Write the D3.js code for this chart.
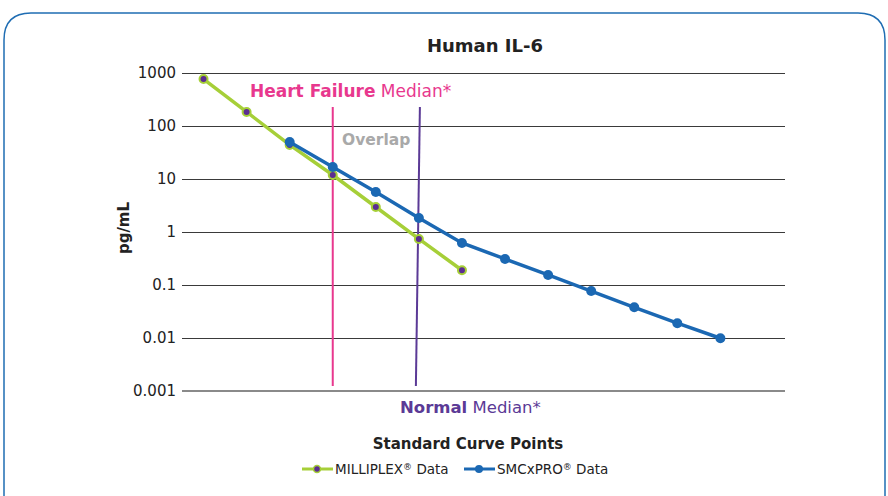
<!DOCTYPE html>
<html>
<head>
<meta charset="utf-8">
<script src="https://cdn.jsdelivr.net/npm/d3@7"></script>
<style>
  body { margin: 0; background: #fff; }
  svg text { font-family: "DejaVu Sans", Verdana, sans-serif; }
</style>
</head>
<body>
<svg width="888" height="496"></svg>
<script>
// standard curve points 1..14
const points = d3.range(1, 15);
const yTicks = [1000, 100, 10, 1, 0.1, 0.01, 0.001];

const milliplexX = [1, 2, 3, 4, 5, 6, 7];
const milliplexY = [770, 184, 44, 11.9, 2.96, 0.74, 0.19];

const smcxproX = [3, 4, 5, 6, 7, 8, 9, 10, 11, 12, 13];
const smcxproY = [50, 16.8, 5.7, 1.84, 0.62, 0.31, 0.155, 0.077, 0.038, 0.019, 0.0099];

const heartFailureMedian = 4;
const normalMedian = 6;

const svg = d3.select("svg");

// frame
svg.append("path")
  .attr("d", "M4,496 L4,40 Q4,13 31,13 L858,13 Q885,13 885,40 L885,496")
  .attr("fill", "none")
  .attr("stroke", "#1f6db3")
  .attr("stroke-width", 1.5);

const x = d3.scaleBand(points, [182, 785]);
const cx = d => x(d) + x.bandwidth() / 2;
const y = d3.scaleLog([0.001, 1000], [391, 73]);

// gridlines
svg.append("g")
  .selectAll("line")
  .data(yTicks)
  .join("line")
    .attr("x1", 182)
    .attr("x2", 785)
    .attr("y1", d => d === 0.001 ? y(d) : y(d) + 0.5)
    .attr("y2", d => d === 0.001 ? y(d) : y(d) + 0.5)
    .attr("stroke", d => d === 0.001 ? "#8a8a8a" : "#3a3a3a")
    .attr("stroke-width", d => d === 0.001 ? 2 : 1);

// y axis labels
svg.append("g")
  .selectAll("text")
  .data(yTicks)
  .join("text")
    .attr("x", 176)
    .attr("y", d => y(d))
    .attr("dy", "0.36em")
    .attr("text-anchor", "end")
    .attr("font-size", 15)
    .attr("fill", "#222")
    .text(d => String(d));

svg.append("text")
  .attr("transform", "translate(129,228) rotate(-90)")
  .attr("text-anchor", "middle")
  .attr("font-size", 15)
  .attr("font-weight", "bold")
  .attr("fill", "#222")
  .text("pg/mL");

// title
svg.append("text")
  .attr("x", 485)
  .attr("y", 52)
  .attr("text-anchor", "middle")
  .attr("font-size", 18)
  .attr("font-weight", "bold")
  .attr("fill", "#222")
  .text("Human IL-6");

// median lines
svg.append("line")
  .attr("x1", cx(heartFailureMedian))
  .attr("x2", cx(heartFailureMedian))
  .attr("y1", 107)
  .attr("y2", 386)
  .attr("stroke", "#e8388e")
  .attr("stroke-width", 2);

svg.append("line")
  .attr("x1", cx(normalMedian) + 1)
  .attr("x2", cx(normalMedian) - 3)
  .attr("y1", 107)
  .attr("y2", 386)
  .attr("stroke", "#5b3a96")
  .attr("stroke-width", 2);

// annotations
const hf = svg.append("text")
  .attr("x", 250)
  .attr("y", 97)
  .attr("font-size", 17)
  .attr("fill", "#e8388e");
hf.append("tspan").attr("font-weight", "bold").text("Heart Failure");
hf.append("tspan").text(" Median*");

svg.append("text")
  .attr("x", 342)
  .attr("y", 145)
  .attr("font-size", 15.5)
  .attr("font-weight", "bold")
  .attr("fill", "#a9a9a9")
  .text("Overlap");

const nm = svg.append("text")
  .attr("x", 400)
  .attr("y", 413)
  .attr("font-size", 16.5)
  .attr("fill", "#5b3a96");
nm.append("tspan").attr("font-weight", "bold").text("Normal");
nm.append("tspan").text(" Median*");

// series
const line = d3.line().x(d => cx(d[0])).y(d => y(d[1]));
const milliplex = d3.zip(milliplexX, milliplexY);
const smcxpro = d3.zip(smcxproX, smcxproY);

svg.append("path")
  .datum(milliplex)
  .attr("d", line)
  .attr("fill", "none")
  .attr("stroke", "#a6cf38")
  .attr("stroke-width", 3.5);

svg.append("g")
  .selectAll("circle")
  .data(milliplex)
  .join("circle")
    .attr("cx", d => cx(d[0]))
    .attr("cy", d => y(d[1]))
    .attr("r", 4)
    .attr("fill", "#5b2d91")
    .attr("stroke", "#a6cf38")
    .attr("stroke-width", 2);

svg.append("path")
  .datum(smcxpro)
  .attr("d", line)
  .attr("fill", "none")
  .attr("stroke", "#1b68b3")
  .attr("stroke-width", 3.5);

svg.append("g")
  .selectAll("circle")
  .data(smcxpro)
  .join("circle")
    .attr("cx", d => cx(d[0]))
    .attr("cy", d => y(d[1]))
    .attr("r", 5)
    .attr("fill", "#1b68b3");

// x axis title
svg.append("text")
  .attr("x", 468)
  .attr("y", 449)
  .attr("text-anchor", "middle")
  .attr("font-size", 15)
  .attr("font-weight", "bold")
  .attr("fill", "#222")
  .text("Standard Curve Points");

// legend
const legend = [
  { name: "MILLIPLEX", x: 302, color: "#a6cf38", dot: "#5b2d91", r: 3.5, sw: 1.5 },
  { name: "SMCxPRO", x: 464, color: "#1b68b3", dot: "#1b68b3", r: 4, sw: 0 }
];
const lg = svg.append("g");
legend.forEach(l => {
  lg.append("line")
    .attr("x1", l.x).attr("x2", l.x + 31)
    .attr("y1", 469).attr("y2", 469)
    .attr("stroke", l.color).attr("stroke-width", 3);
  lg.append("circle")
    .attr("cx", l.x + 15).attr("cy", 469).attr("r", l.r)
    .attr("fill", l.dot)
    .attr("stroke", l.color).attr("stroke-width", l.sw);
  const t = lg.append("text")
    .attr("x", l.x + 33).attr("y", 474)
    .attr("font-size", 13.5).attr("fill", "#222");
  t.append("tspan").text(l.name);
  t.append("tspan").attr("font-size", 9).attr("dy", -4).text("®");
  t.append("tspan").attr("dy", 4).text(" Data");
});
</script>
</body>
</html>
